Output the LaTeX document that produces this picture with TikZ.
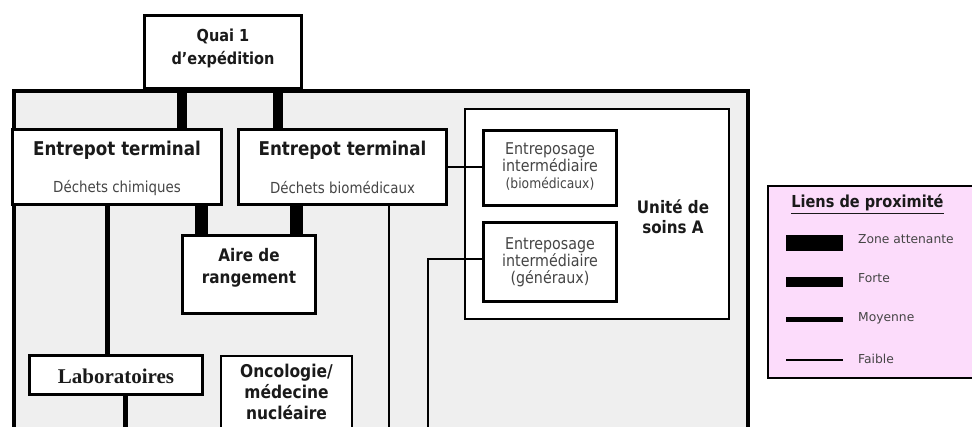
\documentclass[tikz,border=0pt]{standalone}
\usepackage{fontspec}
\setmainfont{DejaVu Sans}
\newfontfamily\labofont{Liberation Serif}
\newfontfamily\narrowfont[FakeStretch=0.88]{DejaVu Sans}
\usetikzlibrary{calc}

\definecolor{regionfill}{HTML}{EFEFEF}
\definecolor{legendfill}{HTML}{FCDCFB}
\definecolor{titleink}{HTML}{1A1A1A}
\definecolor{subink}{HTML}{454545}

\tikzset{
  box/.style={draw=black, fill=white, line width=1.6pt, inner sep=0pt},
  boldtxt/.style={text=titleink, align=center, inner sep=0pt},
  subtxt/.style={text=subink, align=center, inner sep=0pt},
  zone/.style={line width=13pt, line cap=butt},
  forte/.style={line width=10pt, line cap=butt},
  moyenne/.style={line width=5pt, line cap=butt},
  faible/.style={line width=1.4pt},
  legtxt/.style={text=subink, anchor=west, inner sep=0pt, font=\fontsize{12.3}{14}\selectfont},
}
% bold, slightly condensed heading text at a given size / leading
\newcommand{\headfont}[2]{\narrowfont\bfseries\fontsize{#1}{#2}\selectfont}

\begin{document}
\begin{tikzpicture}[x=1pt, y=-1pt]
  \useasboundingbox (0,0) rectangle (972,427);
  \clip (0,0) rectangle (972,427);
  \fill[white] (0,0) rectangle (972,427);

  % service area (open at the bottom)
  \fill[regionfill] (14,91) rectangle (748,440);
  \draw[line width=4.2pt] (14,440) -- (14,91) -- (748,91) -- (748,440);

  % boxes
  \node[box, minimum width=156pt, minimum height=72pt] (quai) at (223,52) {};
  \node[box, minimum width=208pt, minimum height=74pt] (entc) at (117,167) {};
  \node[box, minimum width=207pt, minimum height=74pt] (entb) at (342.5,167) {};
  \node[box, minimum width=132pt, minimum height=77pt] (aire) at (249,274.5) {};
  \node[box, minimum width=172pt, minimum height=38pt] (labo) at (116,375) {};
  \node[box, minimum width=131pt, minimum height=90pt] (onco) at (286.5,401) {};
  \node[box, minimum width=264pt, minimum height=210pt] (unite) at (597,214) {};
  \node[box, minimum width=132pt, minimum height=74pt] (epb) at (550,168) {};
  \node[box, minimum width=132pt, minimum height=78pt] (epg) at (550,262) {};

  % free ends of the links leaving the picture
  \coordinate (laboEnd) at (125,440);
  \coordinate (entbEnd) at (389,440);
  \coordinate (gBend) at (428,259);
  \coordinate (gEnd) at (428,440);

  % proximity links
  \draw[forte] ([xshift=-41pt]quai.south) -- ([xshift=65pt]entc.north);
  \draw[forte] ([xshift=55pt]quai.south) -- ([xshift=-64.5pt]entb.north);
  \draw[zone] ([xshift=84.5pt]entc.south) -- ([xshift=-47.5pt]aire.north);
  \draw[zone] ([xshift=-46pt]entb.south) -- ([xshift=47.5pt]aire.north);
  \draw[moyenne] ([xshift=-9.5pt]entc.south) -- ([xshift=-8.5pt]labo.north);
  \draw[moyenne] ([xshift=9pt]labo.south) -- (laboEnd);
  \draw[faible] ([xshift=46.5pt]entb.south) -- (entbEnd);
  \draw[faible] (entb.east) -- (entb.east -| epb.west);
  \draw[faible] ([yshift=3pt]epg.west) -- (gBend) -- (gEnd);

  % redraw the box outlines over the link ends
  \foreach \b in {quai,entc,entb,aire,labo,epb,epg}
    \draw[line width=1.6pt] (\b.north west) rectangle (\b.south east);

  % texts
  \node[boldtxt, font=\headfont{16.5}{23}] (quaiT) at (223,48) {Quai 1\\d’expédition};
  \node[boldtxt, font=\headfont{19}{20}] (entcT) at (117,150) {Entrepot terminal};
  \node[subtxt, font=\narrowfont\fontsize{15.2}{16}\selectfont] (entcS) at (117,188) {Déchets chimiques};
  \node[boldtxt, font=\headfont{19}{20}] (entbT) at (342.5,150) {Entrepot terminal};
  \node[subtxt, font=\narrowfont\fontsize{15.2}{16}\selectfont] (entbS) at (342.5,188) {Déchets biomédicaux};
  \node[boldtxt, font=\headfont{17.3}{22}] (aireT) at (249,268) {Aire de\\rangement};
  \node[boldtxt, font=\labofont\bfseries\fontsize{21}{24}\selectfont] (laboT) at (116,376) {Laboratoires};
  \node[boldtxt, font=\headfont{17.6}{21}, anchor=north] (oncoT) at (286.5,364) {Oncologie/\\médecine\\nucléaire};
  \node[subtxt, font=\narrowfont\fontsize{16.2}{17}\selectfont] (epbT) at (550,167) {Entreposage\\intermédiaire\\{\fontsize{14}{15}\selectfont(biomédicaux)}};
  \node[subtxt, font=\narrowfont\fontsize{16.2}{17}\selectfont] (epgT) at (550,262) {Entreposage\\intermédiaire\\(généraux)};
  \node[boldtxt, font=\headfont{17.2}{20}] (uniteT) at (673,217) {Unité de\\soins A};

  % legend
  \fill[legendfill] (768,186) rectangle (980,378);
  \draw[line width=1.6pt] (980,186) -- (768,186) -- (768,378) -- (980,378);
  \node[boldtxt, font=\headfont{16.5}{18}] (legT) at (867.5,204) {\underline{Liens de proximité}};
  \coordinate (lz1) at (786,243.5); \coordinate (lz2) at (843,243.5);
  \coordinate (lf1) at (786,282);   \coordinate (lf2) at (843,282);
  \coordinate (lm1) at (786,319.5); \coordinate (lm2) at (843,319.5);
  \coordinate (lw1) at (786,360);   \coordinate (lw2) at (843,360);
  \draw[zone, line width=16pt] (lz1) -- (lz2);
  \draw[forte] (lf1) -- (lf2);
  \draw[moyenne] (lm1) -- (lm2);
  \draw[faible] (lw1) -- (lw2);
  \node[legtxt] (legZ) at (858,239) {Zone attenante};
  \node[legtxt] (legF) at (858,278) {Forte};
  \node[legtxt] (legM) at (858,318) {Moyenne};
  \node[legtxt] (legW) at (858,359) {Faible};
\end{tikzpicture}
\end{document}
